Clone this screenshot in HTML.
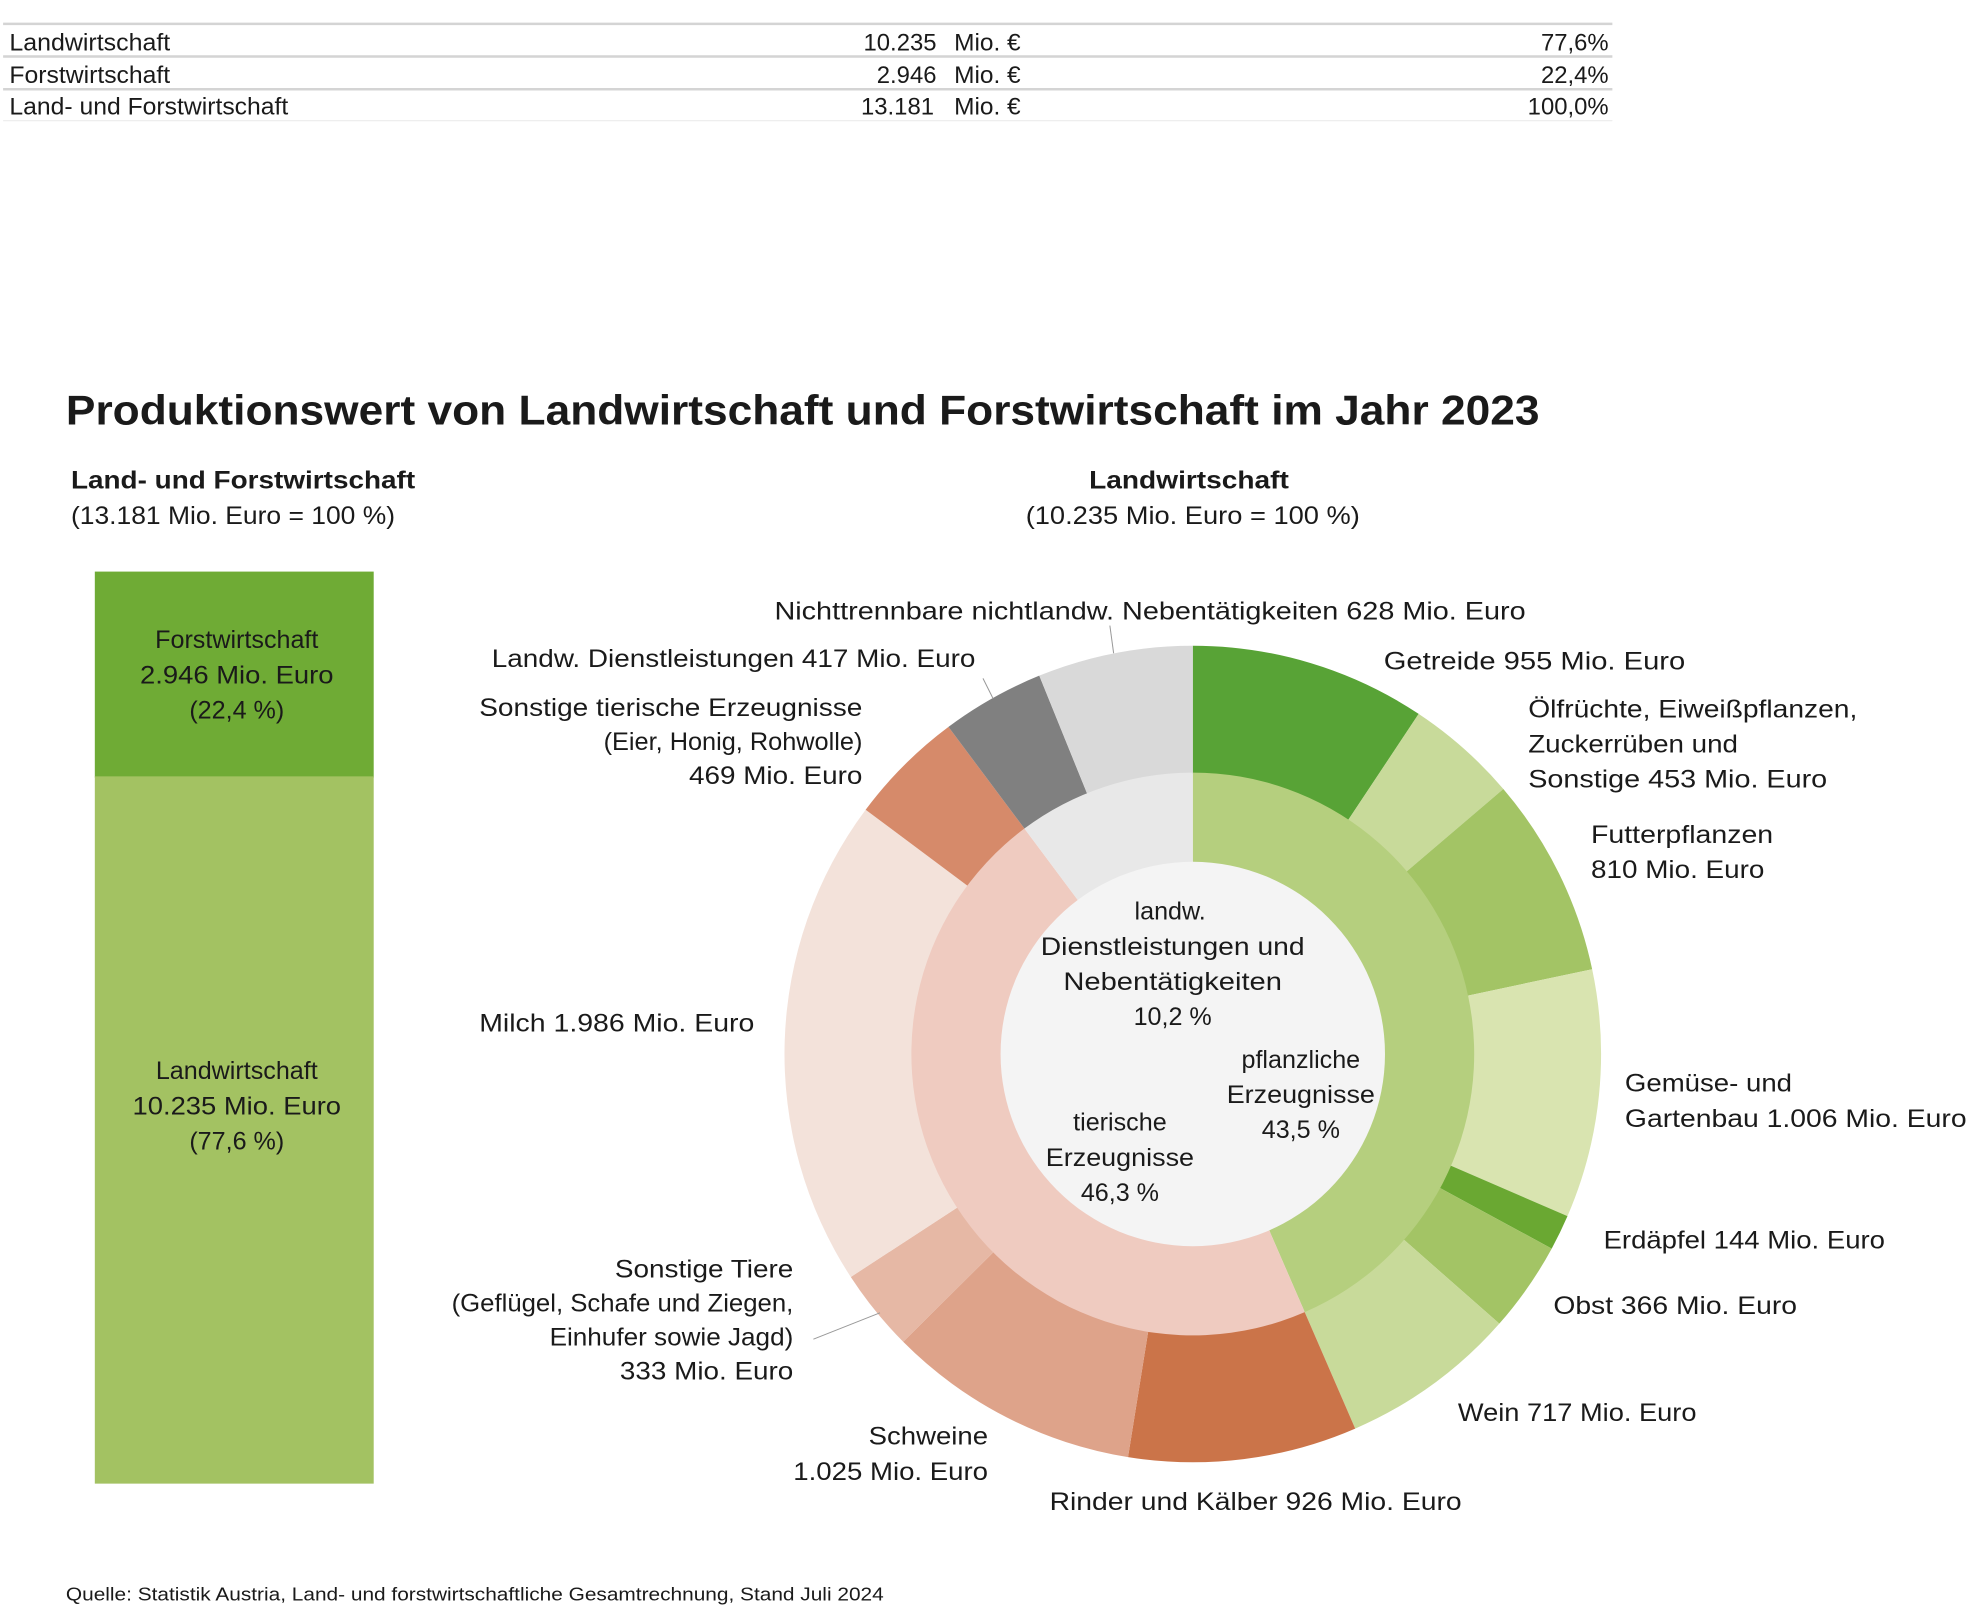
<!DOCTYPE html>
<html><head><meta charset="utf-8"><style>
html,body{margin:0;padding:0;background:#fff;}
svg{display:block;}
text{font-family:"Liberation Sans",sans-serif;fill:#1a1a1a;}
.t{font-size:19px;}
.l{font-size:20px;}
</style></head><body>
<svg id="s" width="1971" height="1608" viewBox="0 0 1568 1280" xmlns="http://www.w3.org/2000/svg">
<rect width="1568" height="1280" fill="#fff"/>
<line x1="2" y1="19" x2="1283" y2="19" stroke="#d4d4d4" stroke-width="2"/>
<line x1="2" y1="45" x2="1283" y2="45" stroke="#d4d4d4" stroke-width="2"/>
<line x1="2" y1="71" x2="1283" y2="71" stroke="#d4d4d4" stroke-width="2"/>
<line x1="2" y1="96" x2="1283" y2="96" stroke="#eee" stroke-width="1"/>
<g class="t">
<text x="7" y="40" textLength="128" lengthAdjust="spacingAndGlyphs">Landwirtschaft</text>
<text x="745" y="40" text-anchor="end">10.235</text>
<text x="759" y="40" textLength="53" lengthAdjust="spacingAndGlyphs">Mio. €</text>
<text x="1280" y="40" text-anchor="end">77,6%</text>
<text x="7" y="66" textLength="128" lengthAdjust="spacingAndGlyphs">Forstwirtschaft</text>
<text x="745" y="66" text-anchor="end">2.946</text>
<text x="759" y="66" textLength="53" lengthAdjust="spacingAndGlyphs">Mio. €</text>
<text x="1280" y="66" text-anchor="end">22,4%</text>
<text x="7" y="91" textLength="222" lengthAdjust="spacingAndGlyphs">Land- und Forstwirtschaft</text>
<text x="743" y="91" text-anchor="end">13.181</text>
<text x="759" y="91" textLength="53" lengthAdjust="spacingAndGlyphs">Mio. €</text>
<text x="1280" y="91" text-anchor="end">100,0%</text>
</g>
<text x="52" y="338" style="font-size:33px;font-weight:bold" textLength="1173" lengthAdjust="spacingAndGlyphs">Produktionswert von Landwirtschaft und Forstwirtschaft im Jahr 2023</text>
<text x="56" y="389" class="l" font-weight="bold" textLength="274" lengthAdjust="spacingAndGlyphs">Land- und Forstwirtschaft</text>
<text x="56" y="417" class="l" textLength="258" lengthAdjust="spacingAndGlyphs">(13.181 Mio. Euro = 100 %)</text>
<text x="946" y="389" class="l" font-weight="bold" text-anchor="middle" textLength="159" lengthAdjust="spacingAndGlyphs">Landwirtschaft</text>
<text x="949" y="417" class="l" text-anchor="middle" textLength="266" lengthAdjust="spacingAndGlyphs">(10.235 Mio. Euro = 100 %)</text>
<rect x="75" y="455" width="222" height="164" fill="#6fab35"/>
<rect x="75" y="618" width="222" height="563" fill="#a3c262"/>
<g class="l" text-anchor="middle">
<text x="188" y="516">Forstwirtschaft</text>
<text x="188" y="544" textLength="154" lengthAdjust="spacingAndGlyphs">2.946 Mio. Euro</text>
<text x="188" y="572">(22,4 %)</text>
<text x="188" y="859">Landwirtschaft</text>
<text x="188" y="887" textLength="166" lengthAdjust="spacingAndGlyphs">10.235 Mio. Euro</text>
<text x="188" y="915">(77,6 %)</text>
</g>
<g id="donut"></g>
<circle cx="949" cy="839" r="153" fill="#f4f4f4"/>
<g class="l" text-anchor="middle">
<text x="931" y="732">landw.</text>
<text x="933" y="760" textLength="210" lengthAdjust="spacingAndGlyphs">Dienstleistungen und</text>
<text x="933" y="788" textLength="174" lengthAdjust="spacingAndGlyphs">Nebentätigkeiten</text>
<text x="933" y="816">10,2 %</text>
<text x="1035" y="850">pflanzliche</text>
<text x="1035" y="878" textLength="118" lengthAdjust="spacingAndGlyphs">Erzeugnisse</text>
<text x="1035" y="906">43,5 %</text>
<text x="891" y="900">tierische</text>
<text x="891" y="928" textLength="118" lengthAdjust="spacingAndGlyphs">Erzeugnisse</text>
<text x="891" y="956">46,3 %</text>
</g>
<g stroke="#999" stroke-width="0.8">
<line x1="883" y1="498" x2="886" y2="520"/>
<line x1="782" y1="540" x2="790" y2="556"/>
<line x1="647" y1="1066" x2="700" y2="1045"/>
</g>
<g class="l">
<text x="616" y="493" textLength="598" lengthAdjust="spacingAndGlyphs">Nichttrennbare nichtlandw. Nebentätigkeiten 628 Mio. Euro</text>
<text x="776" y="531" text-anchor="end" textLength="385" lengthAdjust="spacingAndGlyphs">Landw. Dienstleistungen 417 Mio. Euro</text>
<text x="686" y="570" text-anchor="end" textLength="305" lengthAdjust="spacingAndGlyphs">Sonstige tierische Erzeugnisse</text>
<text x="686" y="597" text-anchor="end" textLength="206" lengthAdjust="spacingAndGlyphs">(Eier, Honig, Rohwolle)</text>
<text x="686" y="624" text-anchor="end" textLength="138" lengthAdjust="spacingAndGlyphs">469 Mio. Euro</text>
<text x="381" y="821" textLength="219" lengthAdjust="spacingAndGlyphs">Milch  1.986 Mio. Euro</text>
<text x="631" y="1017" text-anchor="end" textLength="142" lengthAdjust="spacingAndGlyphs">Sonstige Tiere</text>
<text x="631" y="1044" text-anchor="end" textLength="272" lengthAdjust="spacingAndGlyphs">(Geflügel, Schafe und Ziegen,</text>
<text x="631" y="1071" text-anchor="end" textLength="194" lengthAdjust="spacingAndGlyphs">Einhufer sowie Jagd)</text>
<text x="631" y="1098" text-anchor="end" textLength="138" lengthAdjust="spacingAndGlyphs">333 Mio. Euro</text>
<text x="786" y="1150" text-anchor="end" textLength="95" lengthAdjust="spacingAndGlyphs">Schweine</text>
<text x="786" y="1178" text-anchor="end" textLength="155" lengthAdjust="spacingAndGlyphs">1.025 Mio. Euro</text>
<text x="835" y="1202" textLength="328" lengthAdjust="spacingAndGlyphs">Rinder und Kälber  926 Mio. Euro</text>
<text x="1160" y="1131" textLength="190" lengthAdjust="spacingAndGlyphs">Wein 717 Mio. Euro</text>
<text x="1236" y="1046" textLength="194" lengthAdjust="spacingAndGlyphs">Obst 366 Mio. Euro</text>
<text x="1276" y="994" textLength="224" lengthAdjust="spacingAndGlyphs">Erdäpfel 144 Mio. Euro</text>
<text x="1293" y="869" textLength="133" lengthAdjust="spacingAndGlyphs">Gemüse- und</text>
<text x="1293" y="897" textLength="272" lengthAdjust="spacingAndGlyphs">Gartenbau  1.006 Mio. Euro</text>
<text x="1266" y="671" textLength="145" lengthAdjust="spacingAndGlyphs">Futterpflanzen</text>
<text x="1266" y="699" textLength="138" lengthAdjust="spacingAndGlyphs">810 Mio. Euro</text>
<text x="1216" y="571" textLength="262" lengthAdjust="spacingAndGlyphs">Ölfrüchte, Eiweißpflanzen,</text>
<text x="1216" y="599" textLength="167" lengthAdjust="spacingAndGlyphs">Zuckerrüben und</text>
<text x="1216" y="627" textLength="238" lengthAdjust="spacingAndGlyphs">Sonstige  453 Mio. Euro</text>
<text x="1101" y="533" textLength="240" lengthAdjust="spacingAndGlyphs">Getreide  955 Mio. Euro</text>
</g>
<text x="52" y="1274" style="font-size:15px" textLength="651" lengthAdjust="spacingAndGlyphs">Quelle: Statistik Austria, Land- und forstwirtschaftliche Gesamtrechnung, Stand Juli 2024</text>
</svg>
<script>
(function(){
var cx=949,cy=839,T=10235;
function pt(a,r){return [cx+r*Math.sin(a),cy-r*Math.cos(a)];}
function arc(a0,a1,r0,r1,c){
 var p1=pt(a0,r1),p2=pt(a1,r1),p3=pt(a1,r0),p4=pt(a0,r0),lg=(a1-a0)>Math.PI?1:0;
 return '<path fill="'+c+'" d="M'+p1+' A'+r1+','+r1+' 0 '+lg+' 1 '+p2+' L'+p3+' A'+r0+','+r0+' 0 '+lg+' 0 '+p4+' Z"/>';
}
var outer=[[955,'#58a336'],[453,'#c8da9a'],[810,'#a3c465'],[1006,'#d9e4b0'],[144,'#6aa832'],[366,'#a3c465'],[717,'#c8da9a'],
[926,'#cb7449'],[1025,'#dea38a'],[333,'#e6b8a5'],[1986,'#f3e2da'],[469,'#d68a6a'],[417,'#808080'],[628,'#d9d9d9']];
var mid=[[4451,'#b5cf7e'],[4739,'#efcbc0'],[1045,'#e8e8e8']];
var h='',a=0;
outer.forEach(function(o){var b=a+o[0]/T*2*Math.PI;h+=arc(a,b,223,325,o[1]);a=b;});
a=0;
mid.forEach(function(o){var b=a+o[0]/T*2*Math.PI;h+=arc(a,b,152,224,o[1]);a=b;});
document.getElementById('donut').innerHTML=h;
})();
</script>
</body></html>
